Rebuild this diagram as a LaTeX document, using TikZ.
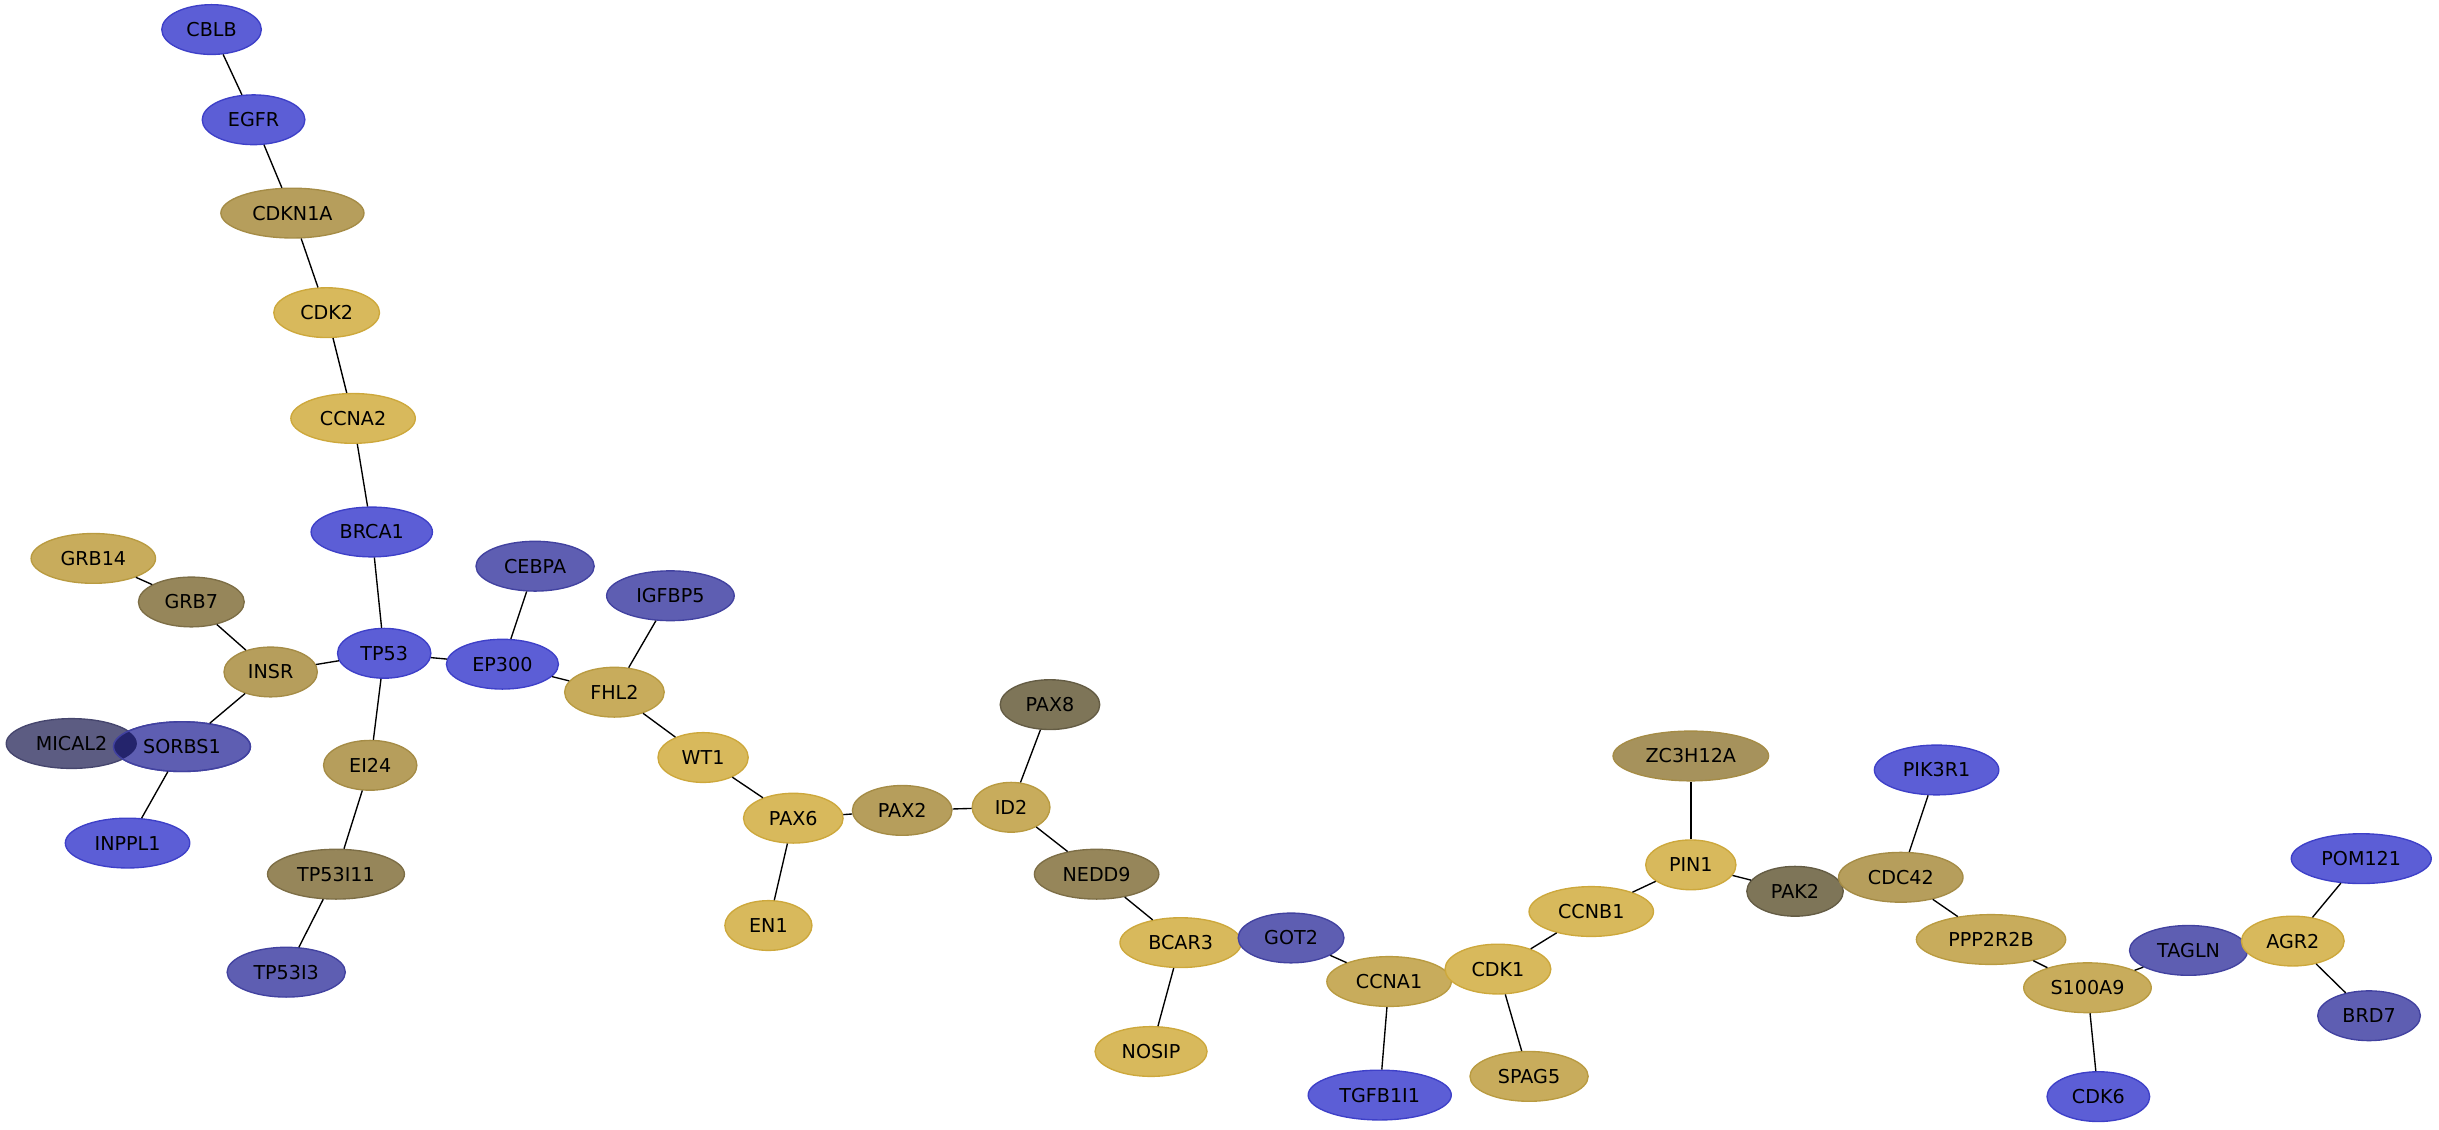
\documentclass[tikz,border=0pt]{standalone}
\usepackage{fontspec}
\setmainfont{DejaVu Sans}
\usetikzlibrary{shapes.geometric}
\definecolor{blueA}{RGB}{92,94,214}
\definecolor{blueAd}{RGB}{62,64,200}
\definecolor{blueB}{RGB}{94,94,178}
\definecolor{blueBd}{RGB}{66,66,160}
\definecolor{micalc}{RGB}{92,92,130}
\definecolor{micald}{RGB}{70,70,110}
\definecolor{overlapc}{RGB}{36,36,108}
\definecolor{goldc}{RGB}{216,185,92}
\definecolor{goldd}{RGB}{205,168,60}
\definecolor{tanc}{RGB}{200,172,92}
\definecolor{tand}{RGB}{185,155,65}
\definecolor{khakic}{RGB}{182,158,92}
\definecolor{khakid}{RGB}{165,140,70}
\definecolor{zcc}{RGB}{166,146,92}
\definecolor{olivec}{RGB}{150,134,90}
\definecolor{olived}{RGB}{125,110,70}
\definecolor{darkc}{RGB}{126,117,88}
\definecolor{darkd}{RGB}{100,92,68}
\tikzset{
  gene/.style={ellipse, draw, line width=0.5pt, inner sep=0pt, minimum height=0.64cm,
    font=\fontsize{7}{8}\selectfont},
  gw/.style={minimum width=#1*0.02cm},
  ba/.style={gene, fill=blueA, draw=blueAd},
  bb/.style={gene, fill=blueB, draw=blueBd},
  bm/.style={gene, fill=micalc, draw=micald},
  gd/.style={gene, fill=goldc, draw=goldd},
  tn/.style={gene, fill=tanc, draw=tand},
  kh/.style={gene, fill=khakic, draw=khakid},
  zc/.style={gene, fill=zcc, draw=khakid},
  ol/.style={gene, fill=olivec, draw=olived},
  dk/.style={gene, fill=darkc, draw=darkd},
  edge/.style={draw=black, line width=0.5pt}
}
\begin{document}
\begin{tikzpicture}[x=0.02cm, y=-0.02cm]
\useasboundingbox (0,0) rectangle (1568,726);
\node[ba, gw=64] (CBLB) at (136,19) {CBLB};
\node[ba, gw=66] (EGFR) at (163,77) {EGFR};
\node[kh, gw=92] (CDKN1A) at (188,137) {CDKN1A};
\node[gd, gw=68] (CDK2) at (210,201) {CDK2};
\node[gd, gw=80] (CCNA2) at (227,269) {CCNA2};
\node[ba, gw=78] (BRCA1) at (239,342) {BRCA1};
\node[tn, gw=80] (GRB14) at (60,359) {GRB14};
\node[ol, gw=68] (GRB7) at (123,387) {GRB7};
\node[bb, gw=76] (CEBPA) at (344,364) {CEBPA};
\node[bb, gw=82] (IGFBP5) at (431,383) {IGFBP5};
\node[ba, gw=60] (TP53) at (247,420) {TP53};
\node[kh, gw=60] (INSR) at (174,432) {INSR};
\node[ba, gw=72] (EP300) at (323,427) {EP300};
\node[tn, gw=64] (FHL2) at (395,445) {FHL2};
\node[bm, gw=84] (MICAL2) at (46,478) {MICAL2};
\node[bb, gw=88] (SORBS1) at (117,480) {SORBS1};
\begin{scope}
  \clip (46,478) ellipse [x radius=42, y radius=16];
  \fill[overlapc] (117,480) ellipse [x radius=44, y radius=16];
\end{scope}
\draw[blueBd, line width=0.5pt] (117,480) ellipse [x radius=44, y radius=16];
\node[kh, gw=60] (EI24) at (238,492) {EI24};
\node[gd, gw=58] (WT1) at (452,487) {WT1};
\node[gd, gw=64] (PAX6) at (510,526) {PAX6};
\node[kh, gw=64] (PAX2) at (580,521) {PAX2};
\node[tn, gw=50] (ID2) at (650,519) {ID2};
\node[dk, gw=64] (PAX8) at (675,453) {PAX8};
\node[ba, gw=80] (INPPL1) at (82,542) {INPPL1};
\node[ol, gw=88] (TP53I11) at (216,562) {TP53I11};
\node[ol, gw=80] (NEDD9) at (705,562) {NEDD9};
\node[gd, gw=56] (EN1) at (494,595) {EN1};
\node[bb, gw=76] (TP53I3) at (184,625) {TP53I3};
\node[gd, gw=78] (BCAR3) at (759,606) {BCAR3};
\node[bb, gw=68] (GOT2) at (830,603) {GOT2};
\node[tn, gw=80] (CCNA1) at (893,631) {CCNA1};
\node[gd, gw=68] (CDK1) at (963,623) {CDK1};
\node[gd, gw=72] (NOSIP) at (740,676) {NOSIP};
\node[ba, gw=92] (TGFB1I1) at (887,704) {TGFB1I1};
\node[tn, gw=76] (SPAG5) at (983,692) {SPAG5};
\node[gd, gw=80] (CCNB1) at (1023,586) {CCNB1};
\node[gd, gw=58] (PIN1) at (1087,556) {PIN1};
\node[zc, gw=100] (ZC3H12A) at (1087,486) {ZC3H12A};
\node[dk, gw=62] (PAK2) at (1154,573) {PAK2};
\node[kh, gw=80] (CDC42) at (1222,564) {CDC42};
\node[ba, gw=80] (PIK3R1) at (1245,495) {PIK3R1};
\node[tn, gw=96] (PPP2R2B) at (1280,604) {PPP2R2B};
\node[tn, gw=82] (S100A9) at (1342,635) {S100A9};
\node[bb, gw=76] (TAGLN) at (1407,611) {TAGLN};
\node[gd, gw=66] (AGR2) at (1474,605) {AGR2};
\node[ba, gw=90] (POM121) at (1518,552) {POM121};
\node[bb, gw=66] (BRD7) at (1523,653) {BRD7};
\node[ba, gw=66] (CDK6) at (1349,705) {CDK6};
\foreach \a/\b in {CBLB/EGFR, EGFR/CDKN1A, CDKN1A/CDK2, CDK2/CCNA2, CCNA2/BRCA1,
  BRCA1/TP53, GRB14/GRB7, GRB7/INSR, INSR/TP53, INSR/SORBS1, SORBS1/INPPL1,
  TP53/EP300, TP53/EI24, EI24/TP53I11, TP53I11/TP53I3, CEBPA/EP300, EP300/FHL2,
  IGFBP5/FHL2, FHL2/WT1, WT1/PAX6, PAX6/PAX2, PAX6/EN1, PAX2/ID2, ID2/PAX8,
  ID2/NEDD9, NEDD9/BCAR3, BCAR3/NOSIP, GOT2/CCNA1, CCNA1/TGFB1I1, CDK1/SPAG5,
  CDK1/CCNB1, CCNB1/PIN1, PIN1/ZC3H12A, PIN1/PAK2, CDC42/PIK3R1, CDC42/PPP2R2B,
  PPP2R2B/S100A9, S100A9/TAGLN, S100A9/CDK6, AGR2/POM121, AGR2/BRD7}
  \draw[edge] (\a) -- (\b);
\end{tikzpicture}
\end{document}
